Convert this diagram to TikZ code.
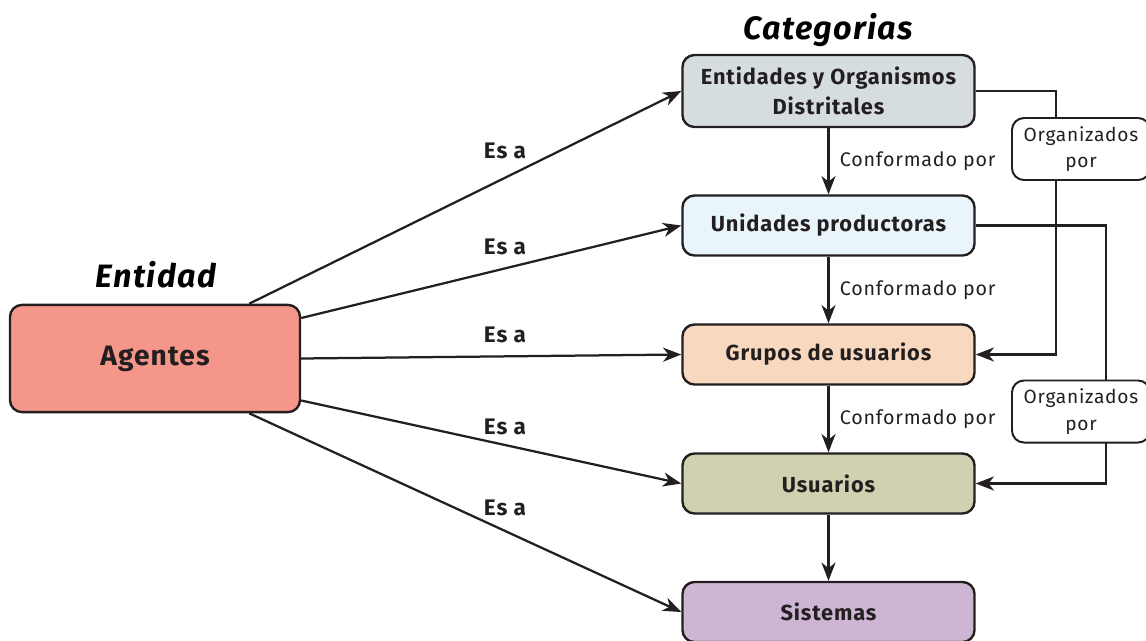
\documentclass[tikz,border=0pt]{standalone}
\usepackage{fontspec}
\setmainfont{Fira Sans}[LetterSpace=4]
\usepackage{tikz}
\usetikzlibrary{arrows.meta,calc}

\definecolor{linea}{HTML}{231F20}
\definecolor{cAgente}{HTML}{F4968A}
\definecolor{cEntidad}{HTML}{D6DDE1}
\definecolor{cUnidad}{HTML}{E9F5FA}
\definecolor{cGrupo}{HTML}{F8D8BF}
\definecolor{cUsuario}{HTML}{D1D0B1}
\definecolor{cSistema}{HTML}{CDB5D3}

\begin{document}
\begin{tikzpicture}[x=0.025cm,y=-0.025cm,
  caja/.style={draw=linea,line width=1.7pt,rounded corners=0.3cm,align=center,
    minimum width=7.3cm,minimum height=1.5cm,inner sep=2pt,font=\fontsize{15.5}{16}\selectfont\bfseries,text=linea},
  orgcaja/.style={draw=linea,fill=white,line width=1.4pt,rounded corners=0.3cm,align=center,
    minimum width=3.45cm,minimum height=1.55cm,inner sep=1pt,font=\fontsize{13.6}{15}\selectfont,text=linea},
  flecha/.style={draw=linea,line width=1.6pt,-{Stealth[length=13pt,width=10pt,inset=4pt]}},
  esa/.style={font=\fontsize{16}{18}\selectfont\bfseries,text=linea},
  conf/.style={font=\fontsize{14}{16}\selectfont,text=linea},
  titulo/.style={font=\fontsize{23}{25}\selectfont\bfseries\itshape,text=black}]
 \useasboundingbox (0,0) rectangle (1146,640);

 % titulos
 \node[titulo] (tcat) at (828,30) {Categorias};
 \node[titulo] (tent) at (156,275) {Entidad};

 % cajas
 \node[caja,fill=cAgente,minimum width=7.25cm,minimum height=2.68cm,font=\fontsize{20}{22}\selectfont\bfseries] (ag) at (155,358.5) {Agentes};
 \node[caja,fill=cEntidad,minimum height=1.8cm] (ent) at (828.5,91) {Entidades y Organismos\\[4.5pt]Distritales};
 \node[caja,fill=cUnidad] (uni) at (828.5,225.5) {Unidades productoras};
 \node[caja,fill=cGrupo] (grp) at (828.5,354.5) {Grupos de usuarios};
 \node[caja,fill=cUsuario] (usu) at (828.5,483.5) {Usuarios};
 \node[caja,fill=cSistema] (sis) at (828.5,612) {Sistemas};

 % Es a
 \draw[flecha] ($(ag.north east)+(-52,0)$) -- (ent.west);
 \draw[flecha] ($(ag.east)+(0,-40.5)$) -- (uni.west);
 \draw[flecha] (ag.east) -- (grp.west);
 \draw[flecha] ($(ag.east)+(0,42)$) -- (usu.west);
 \draw[flecha] ($(ag.south east)+(-52,0)$) -- (sis.west);
 \node[esa] (esa1) at (505,151) {Es a};
 \node[esa] (esa2) at (505,247) {Es a};
 \node[esa] (esa3) at (505,335) {Es a};
 \node[esa] (esa4) at (505,427) {Es a};
 \node[esa] (esa5) at (505,508) {Es a};

 % conformado por
 \draw[flecha] (ent) -- node[conf,right=4pt] (cf1) {Conformado por} (uni);
 \draw[flecha] (uni) -- node[conf,right=4pt] (cf2) {Conformado por} (grp);
 \draw[flecha] (grp) -- node[conf,right=4pt] (cf3) {Conformado por} (usu);
 \draw[flecha] (usu) -- (sis);

 % organizados por
 \coordinate (r1) at (1056,0);
 \coordinate (r2) at (1106,0);
 \draw[flecha] (ent.east) -- (ent.east -| r1) -- (grp.east -| r1) -- (grp.east);
 \draw[flecha] (uni.east) -- (uni.east -| r2) -- (usu.east -| r2) -- (usu.east);
 \node[orgcaja] (org1) at (1081,149) {Organizados\\[4pt]por};
 \node[orgcaja] (org2) at (1081,411.5) {Organizados\\[4pt]por};
\end{tikzpicture}
\end{document}
